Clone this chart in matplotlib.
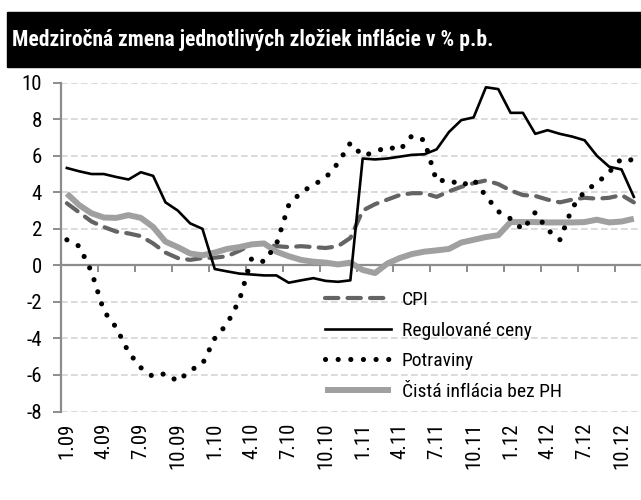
import matplotlib
matplotlib.use("Agg")
import matplotlib.pyplot as plt
from matplotlib.patches import Rectangle

plt.rcParams['font.family'] = ['Roboto Condensed', 'DejaVu Sans']
plt.rcParams['axes.unicode_minus'] = False

# monthly data 1.09 - 11.12
months = ["%d.%02d" % (m, y) for y in range(9, 13) for m in range(1, 13)][:47]

cpi = [3.4, 2.9, 2.4, 2.1, 1.85, 1.75, 1.6, 1.2, 0.7, 0.4, 0.3, 0.4,
       0.42, 0.5, 0.8, 1.15, 1.2, 1.05, 1.0, 1.05, 1.0, 0.95, 1.05, 1.5,
       3.0, 3.35, 3.6, 3.85, 3.95, 3.95, 3.75, 4.05, 4.3, 4.5, 4.65, 4.45,
       4.1, 3.85, 3.8, 3.6, 3.45, 3.6, 3.7, 3.65, 3.7, 3.85, 3.45]
regulovane = [5.33, 5.15, 5.0, 5.0, 4.84, 4.7, 5.1, 4.9, 3.45, 3.0, 2.3, 2.0,
              -0.2, -0.33, -0.45, -0.5, -0.55, -0.55, -0.95, -0.82, -0.7, -0.85, -0.9, -0.82,
              5.85, 5.8, 5.85, 5.95, 6.05, 6.08, 6.35, 7.3, 7.95, 8.1, 9.75, 9.65,
              8.35, 8.35, 7.2, 7.4, 7.2, 7.05, 6.85, 6.0, 5.4, 5.25, 3.75]
potraviny = [1.4, 1.05, -0.35, -2.5, -3.4, -4.75, -5.6, -6.1, -5.92, -6.35, -5.75, -5.4,
             -4.0, -3.2, -1.9, 0.4, 0.2, 1.15, 3.3, 4.0, 4.4, 4.8, 5.6, 6.7,
             6.0, 6.2, 6.5, 6.3, 7.1, 6.85, 4.6, 4.7, 4.35, 4.7, 3.8, 2.95,
             2.55, 1.95, 2.9, 1.95, 1.4, 3.15, 4.05, 4.5, 5.1, 5.85, 5.75]
cista = [3.93, 3.3, 2.85, 2.62, 2.6, 2.75, 2.6, 2.1, 1.3, 1.0, 0.65, 0.55,
         0.7, 0.9, 1.0, 1.15, 1.2, 0.75, 0.5, 0.3, 0.2, 0.15, 0.05, 0.15,
         -0.25, -0.42, 0.1, 0.4, 0.62, 0.75, 0.82, 0.9, 1.25, 1.4, 1.55, 1.65,
         2.37, 2.37, 2.37, 2.35, 2.35, 2.35, 2.37, 2.5, 2.35, 2.4, 2.55]

title = "Medziročná zmena jednotlivých zložiek inflácie v % p.b."
labels = ["CPI", "Regulované ceny", "Potraviny", "Čistá inflácia bez PH"]

fig = plt.figure(figsize=(6.41, 5.0), dpi=100)

# black title bar
fig.patches.append(Rectangle((7 / 641, 1 - 67 / 500), 634 / 641, 55 / 500,
                             transform=fig.transFigure, color="black", zorder=0))
fig.text(12 / 641, 1 - 40 / 500, title, color="white", fontsize=15.5,
         fontweight="bold", va="center", ha="left")

ax = fig.add_axes([60.7 / 641, 1 - 411.5 / 500, (640 - 60.7) / 641, (411.5 - 82.7) / 500])
x = list(range(len(months)))

ax.plot(x, cpi, color="#646464", lw=3.0, linestyle=(0, (3.2, 2.2)),
        dash_capstyle="round", label=labels[0], zorder=3)
ax.plot(x, regulovane, color="black", lw=1.9, label=labels[1], zorder=4)
ax.plot(x, potraviny, color="black", lw=3.7, linestyle=(0, (0.01, 2.45)),
        dash_capstyle="round", label=labels[2], zorder=4)
ax.plot(x, cista, color="#a0a0a0", lw=4.3, solid_capstyle="butt",
        label=labels[3], zorder=3)

ax.set_ylim(-8, 10)
ax.set_yticks(range(-8, 11, 2))
ax.set_xlim(-0.5, len(months) - 0.5)
ax.grid(axis="y", color="#d4d4d4", linestyle=(0, (4, 2)), lw=1.2, zorder=0)
ax.set_axisbelow(True)

for s in ["top", "right"]:
    ax.spines[s].set_visible(False)
ax.spines["left"].set_color("#8c8c8c")
ax.spines["left"].set_linewidth(1.6)
ax.spines["bottom"].set_position(("data", 0))
ax.spines["bottom"].set_color("#8c8c8c")
ax.spines["bottom"].set_linewidth(1.6)

ax.tick_params(axis="y", direction="out", length=5.5, width=1.4, color="#8c8c8c",
               labelsize=15, pad=8)
ax.set_xticks([i - 0.5 for i in range(3, len(months), 3)])
ax.tick_params(axis="x", direction="out", length=5, width=1.4, color="#8c8c8c",
               labelbottom=False)

sec = ax.secondary_xaxis(0)
sec.set_xticks([i for i in x if i % 3 == 0])
sec.set_xticklabels([months[i] for i in x if i % 3 == 0], rotation=90)
sec.tick_params(length=0, labelsize=15, pad=8)
sec.spines["bottom"].set_visible(False)

ax.legend(loc="upper left", bbox_to_anchor=(325 / 641, 1 - 291 / 500),
          bbox_transform=fig.transFigure, frameon=False, fontsize=14,
          handlelength=3.4, handletextpad=0.55, labelspacing=0.65,
          borderpad=0, borderaxespad=0)

fig.savefig("out.png", dpi=100)
